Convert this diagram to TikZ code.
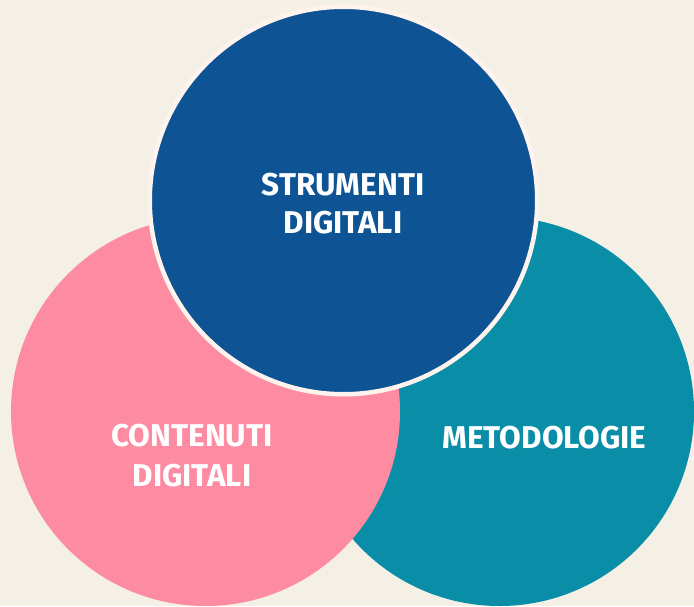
\documentclass[tikz,border=0pt]{standalone}
\usepackage{fontspec}
\setmainfont{Fira Sans}
\definecolor{bgc}{HTML}{F5F0E5}
\definecolor{bluec}{HTML}{0E5394}
\definecolor{pinkc}{HTML}{FD8CA3}
\definecolor{tealc}{HTML}{0A8EA8}
\definecolor{ringc}{HTML}{FFF3EE}
\tikzset{
  disc/.style={circle, inner sep=0pt, outer sep=0pt},
  lbl/.style={text=white, align=center, font=\fontsize{31.5}{38}\selectfont\bfseries},
}
\begin{document}
\begin{tikzpicture}[x=1pt,y=-1pt]
\useasboundingbox (0,0) rectangle (694,606);
\fill[bgc] (0,0) rectangle (694,606);
\clip (0,0) rectangle (694,606);
\node[disc, fill=tealc, minimum size=389pt] (metodo) at (499.5,411.5) {};
\node[disc, fill=pinkc, minimum size=389pt] (conten) at (205.5,411.5) {};
\node[disc, fill=bluec, draw=ringc, line width=4.5pt, minimum size=387.5pt] (strum) at (343.5,200.5) {};
\node[lbl] (tstrum) at (343,204) {STRUMENTI\\DIGITALI};
\node[lbl] (tconten) at (192,456) {CONTENUTI\\[2pt]DIGITALI};
\node[lbl] (tmetodo) at (544.5,438) {METODOLOGIE};
\end{tikzpicture}
\end{document}
